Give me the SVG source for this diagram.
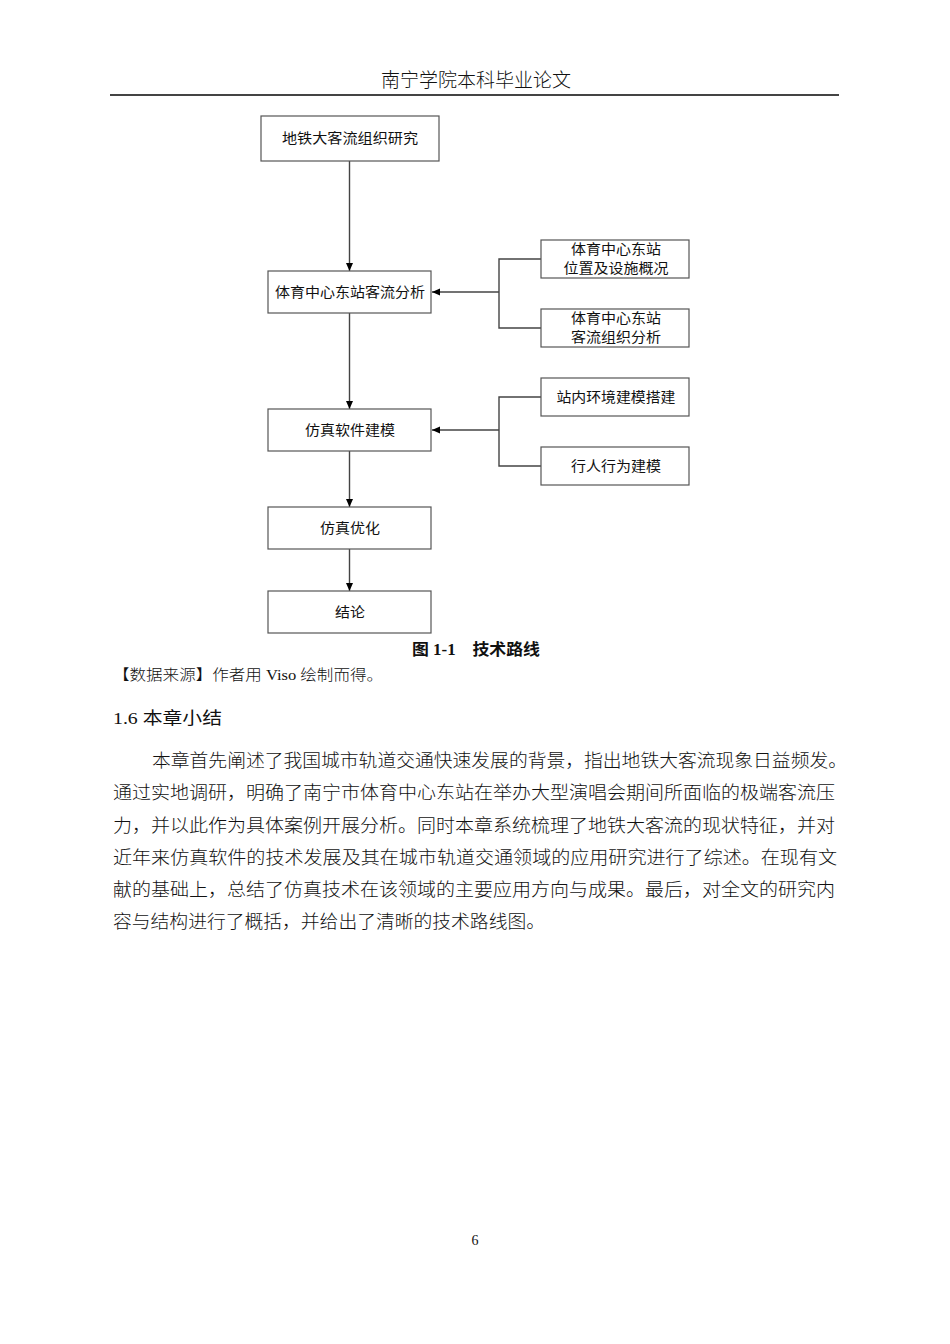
<svg xmlns="http://www.w3.org/2000/svg" width="950" height="1344" viewBox="0 0 950 1344">
<defs>
<marker id="arr" markerWidth="8" markerHeight="8" refX="8" refY="4" orient="auto" markerUnits="userSpaceOnUse">
<path d="M0,0.5 L8,4 L0,7.5 Z" fill="#000"/>
</marker>
<style>
.box{fill:#fff;stroke:#555;stroke-width:1.2}
.bt{font-family:"Noto Sans CJK SC","Noto Sans",sans-serif;font-size:14px;fill:#111;text-anchor:middle;font-weight:400}
.ln{fill:none;stroke:#444;stroke-width:1.4}
.serif{font-family:"Liberation Serif","Noto Sans CJK SC",serif;fill:#111}
.p{font-family:"Liberation Serif","Noto Sans CJK SC",serif;font-size:18px;fill:#111;font-weight:300}
</style>
</defs>
<rect width="950" height="1344" fill="#fff"/>

<text class="serif" x="476" y="87" font-size="19" text-anchor="middle" font-weight="300" textLength="190" lengthAdjust="spacingAndGlyphs">南宁学院本科毕业论文</text>
<line x1="110" y1="95" x2="839" y2="95" stroke="#444" stroke-width="2"/>

<g id="connectors">
<line class="ln" x1="349.5" y1="161" x2="349.5" y2="271" marker-end="url(#arr)"/>
<line class="ln" x1="349.5" y1="313" x2="349.5" y2="409" marker-end="url(#arr)"/>
<line class="ln" x1="349.5" y1="451" x2="349.5" y2="507" marker-end="url(#arr)"/>
<line class="ln" x1="349.5" y1="549" x2="349.5" y2="591" marker-end="url(#arr)"/>
<path class="ln" d="M541,259 H499 V328 H541"/>
<line class="ln" x1="499" y1="292" x2="432" y2="292" marker-end="url(#arr)"/>
<path class="ln" d="M541,397 H499 V466 H541"/>
<line class="ln" x1="499" y1="430" x2="432" y2="430" marker-end="url(#arr)"/>
</g>

<g id="n1"><rect class="box" x="261" y="116" width="178" height="45"/><text class="bt" x="350" y="143" textLength="136" lengthAdjust="spacingAndGlyphs">地铁大客流组织研究</text></g>
<g id="n2"><rect class="box" x="268" y="271" width="163" height="42"/><text class="bt" x="350" y="297" textLength="150" lengthAdjust="spacingAndGlyphs">体育中心东站客流分析</text></g>
<g id="n3"><rect class="box" x="268" y="409" width="163" height="42"/><text class="bt" x="350" y="435" textLength="90" lengthAdjust="spacingAndGlyphs">仿真软件建模</text></g>
<g id="n4"><rect class="box" x="268" y="507" width="163" height="42"/><text class="bt" x="350" y="533" textLength="60" lengthAdjust="spacingAndGlyphs">仿真优化</text></g>
<g id="n5"><rect class="box" x="268" y="591" width="163" height="42"/><text class="bt" x="350" y="617" textLength="30" lengthAdjust="spacingAndGlyphs">结论</text></g>
<g id="r1"><rect class="box" x="541" y="240" width="148" height="38"/><text class="bt" x="616" y="254" textLength="90" lengthAdjust="spacingAndGlyphs">体育中心东站</text><text class="bt" x="616" y="273" textLength="105" lengthAdjust="spacingAndGlyphs">位置及设施概况</text></g>
<g id="r2"><rect class="box" x="541" y="309" width="148" height="38"/><text class="bt" x="616" y="323" textLength="90" lengthAdjust="spacingAndGlyphs">体育中心东站</text><text class="bt" x="616" y="342" textLength="90" lengthAdjust="spacingAndGlyphs">客流组织分析</text></g>
<g id="r3"><rect class="box" x="541" y="378" width="148" height="38"/><text class="bt" x="616" y="402" textLength="119" lengthAdjust="spacingAndGlyphs">站内环境建模搭建</text></g>
<g id="r4"><rect class="box" x="541" y="447" width="148" height="38"/><text class="bt" x="616" y="471" textLength="90" lengthAdjust="spacingAndGlyphs">行人行为建模</text></g>

<text class="serif" x="412" y="655" font-size="16" font-weight="bold" textLength="128" lengthAdjust="spacingAndGlyphs">图 1-1　技术路线</text>
<text class="serif" x="113" y="680" font-size="15" font-weight="300" textLength="270" lengthAdjust="spacingAndGlyphs">【数据来源】作者用 Viso 绘制而得。</text>
<text class="serif" x="113" y="724" font-size="17.5" textLength="109" lengthAdjust="spacingAndGlyphs">1.6 本章小结</text>

<text class="p" x="152" y="767" textLength="695" lengthAdjust="spacingAndGlyphs">本章首先阐述了我国城市轨道交通快速发展的背景，指出地铁大客流现象日益频发。</text>
<text class="p" x="113" y="799" textLength="722" lengthAdjust="spacingAndGlyphs">通过实地调研，明确了南宁市体育中心东站在举办大型演唱会期间所面临的极端客流压</text>
<text class="p" x="113" y="832" textLength="722" lengthAdjust="spacingAndGlyphs">力，并以此作为具体案例开展分析。同时本章系统梳理了地铁大客流的现状特征，并对</text>
<text class="p" x="113" y="864" textLength="724" lengthAdjust="spacingAndGlyphs">近年来仿真软件的技术发展及其在城市轨道交通领域的应用研究进行了综述。在现有文</text>
<text class="p" x="113" y="896" textLength="722" lengthAdjust="spacingAndGlyphs">献的基础上，总结了仿真技术在该领域的主要应用方向与成果。最后，对全文的研究内</text>
<text class="p" x="113" y="928" textLength="432" lengthAdjust="spacingAndGlyphs">容与结构进行了概括，并给出了清晰的技术路线图。</text>

<text class="serif" x="475" y="1245" font-size="14" text-anchor="middle">6</text>
</svg>
